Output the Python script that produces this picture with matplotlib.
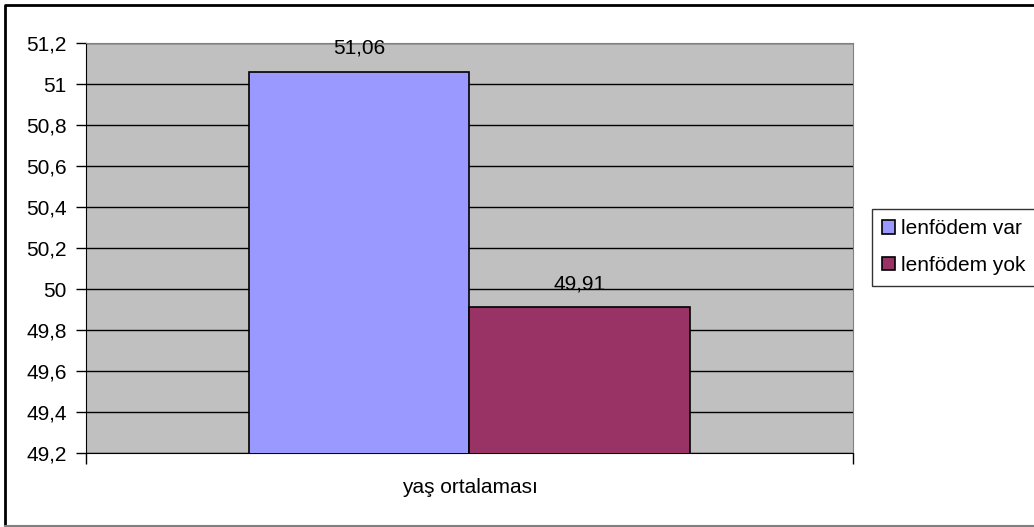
import matplotlib.pyplot as plt
from matplotlib.lines import Line2D
from matplotlib.ticker import FuncFormatter

plt.rcParams['font.family'] = ['Liberation Sans', 'DejaVu Sans']

category = "yaş ortalaması"
series = ["lenfödem var", "lenfödem yok"]
values = [51.06, 49.91]
colors = ["#9999FF", "#993366"]
y_ticks = [49.2, 49.4, 49.6, 49.8, 50.0, 50.2, 50.4, 50.6, 50.8, 51.0, 51.2]


def comma(v, pos=None):
    s = f"{v:.2f}".rstrip("0").rstrip(".")
    return s.replace(".", ",")


W, H = 1034, 527
FS = 15
fig = plt.figure(figsize=(W / 100, H / 100), dpi=100)

# outer chart frame (left/top dark, bottom grey)
def px(x, y):
    return x / W, 1 - y / H

fig.add_artist(Line2D(*zip(px(5, 526), px(5, 5), px(W, 5)),
                      color="black", linewidth=2))
fig.add_artist(Line2D(*zip(px(5, 526), px(W, 526)),
                      color="#808080", linewidth=1.5))

ax = fig.add_axes([86 / W, (H - 453) / H, (853 - 86) / W, (453 - 43) / H])
ax.set_facecolor("#C0C0C0")
ax.set_xlim(0, 1)
ax.set_ylim(y_ticks[0], y_ticks[-1])

bar_w = 0.2875
xs = [0.5 - bar_w / 2, 0.5 + bar_w / 2]
ax.yaxis.grid(True, color="black", linewidth=1)
ax.set_axisbelow(True)
bars = ax.bar(xs, values, width=bar_w, color=colors, edgecolor="black",
              linewidth=1.2, label=series, zorder=3)
for x, v in zip(xs, values):
    ax.text(x, v + 0.09, comma(v), ha="center", va="baseline", fontsize=FS)

ax.set_yticks(y_ticks)
ax.yaxis.set_major_formatter(FuncFormatter(comma))
ax.tick_params(axis="y", labelsize=FS, length=7, width=1, direction="out",
               pad=7)
ax.set_xticks([0, 1])
ax.set_xticklabels([])
ax.tick_params(axis="x", length=8, width=1, direction="out")
ax.text(0.5, -0.085, category, transform=ax.transAxes, ha="center",
        va="center", fontsize=FS)

for side in ["top", "right"]:
    ax.spines[side].set_color("#808080")
for side in ["left", "bottom"]:
    ax.spines[side].set_color("black")

leg = fig.legend(handles=bars, labels=series, loc="upper left",
                 bbox_to_anchor=(872 / W, (H - 209) / H), fontsize=FS,
                 frameon=True, fancybox=False, edgecolor="black",
                 handlelength=0.6, handleheight=0.6, handletextpad=0.3,
                 borderpad=0.5, labelspacing=0.85, borderaxespad=0)
leg.get_frame().set_linewidth(1)

fig.savefig("out.png", dpi=100)
